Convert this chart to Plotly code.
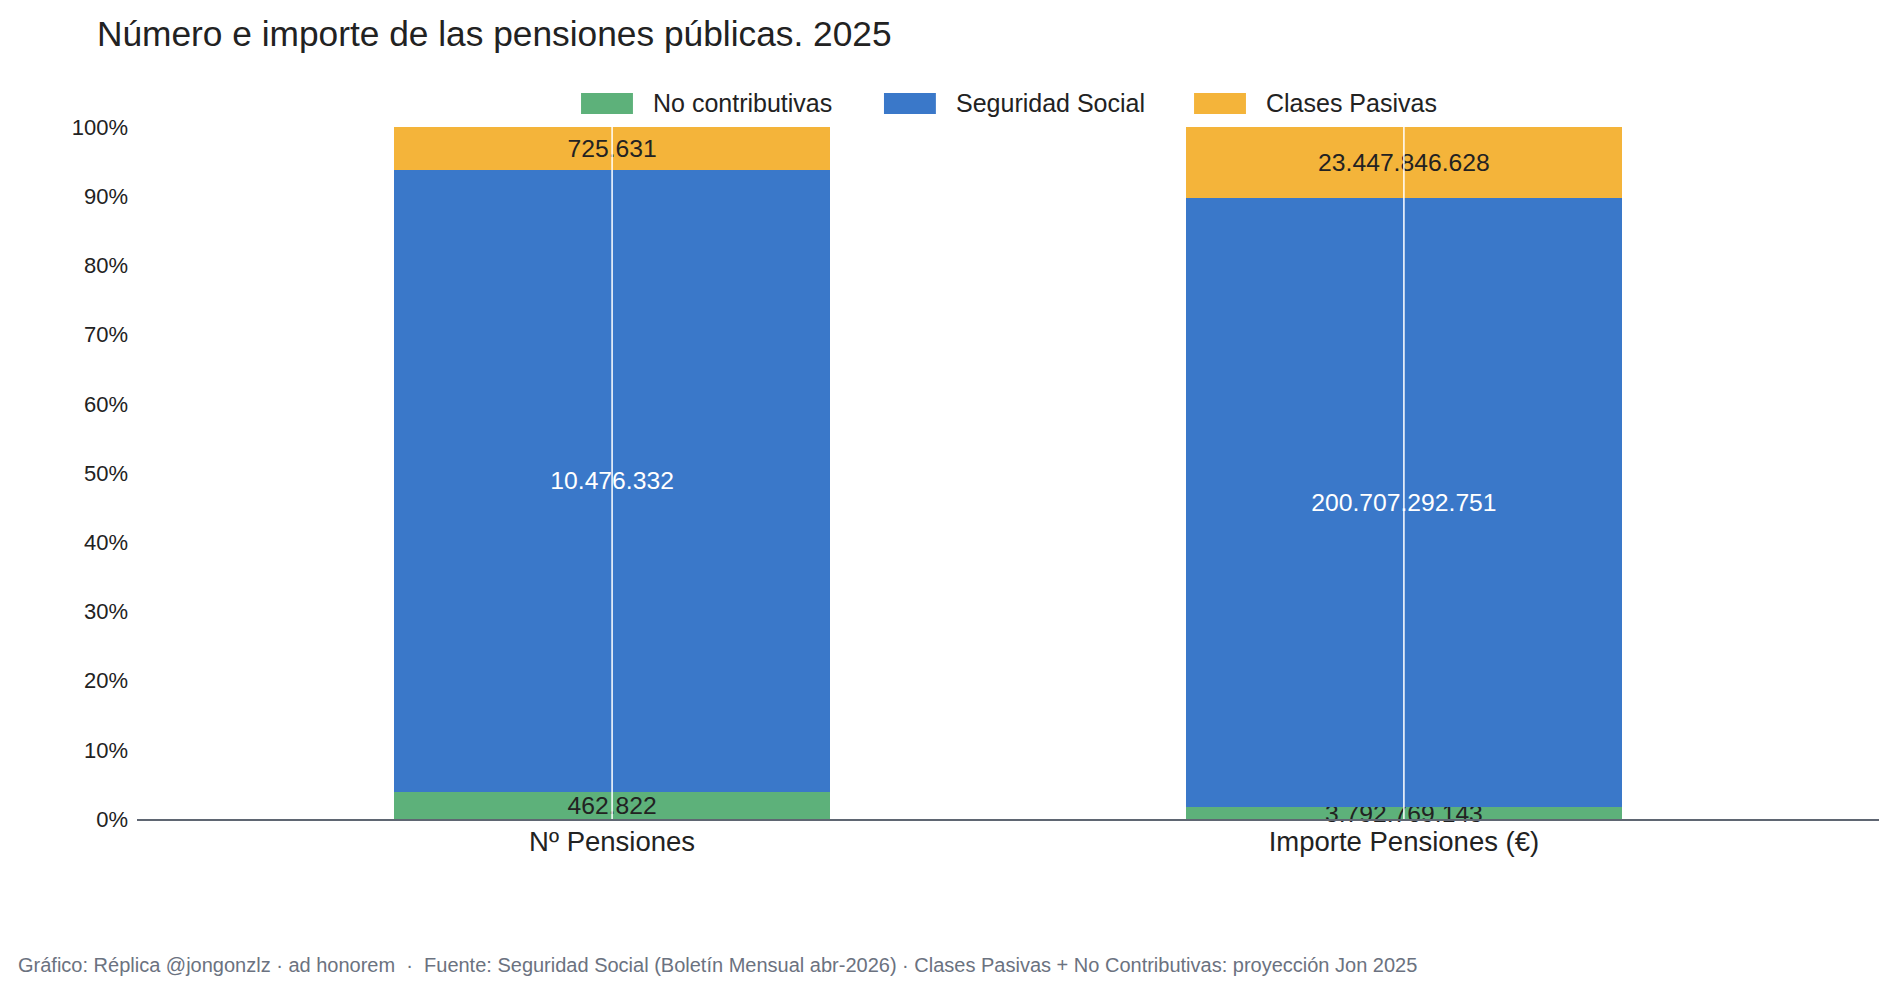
import plotly.graph_objects as go

categories = ["Nº Pensiones", "Importe Pensiones (€)"]
no_contributivas = [462822, 3792769143]
seguridad_social = [10476332, 200707292751]
clases_pasivas = [725631, 23447846628]
series_names = ["No contributivas", "Seguridad Social", "Clases Pasivas"]
colors = ["#5db17a", "#3a78c9", "#f4b43a"]
text_colors = ["#222222", "#ffffff", "#222222"]
y_ticks = [0, 10, 20, 30, 40, 50, 60, 70, 80, 90, 100]
y_tick_labels = [f"{v}%" for v in y_ticks]


def fmt(v):
    return f"{v:,}".replace(",", ".")


FONT = "Liberation Sans, Arial, sans-serif"
fig = go.Figure()
for name, vals, col, tcol in zip(series_names, [no_contributivas, seguridad_social, clases_pasivas], colors, text_colors):
    fig.add_trace(go.Bar(
        x=categories, y=vals, name=name, marker_color=col, marker_line_width=0,
        text=[fmt(v) for v in vals], textposition="inside", insidetextanchor="middle",
        textangle=0, constraintext="none", cliponaxis=False,
        textfont=dict(family=FONT, size=24.7, color=tcol), width=0.55,
        showlegend=False,
    ))

# white centre lines over each bar
for c in categories:
    fig.add_shape(type="line", xref="x", yref="y", x0=c, x1=c, y0=0, y1=100,
                  line=dict(color="white", width=1.5), layer="above")

# custom legend (wide swatches)
leg_x = [0.2549, 0.4288, 0.6068]
for name, col, lx in zip(series_names, colors, leg_x):
    fig.add_shape(type="rect", xref="paper", yref="paper", x0=lx, x1=lx + 0.0298,
                  y0=1.0188, y1=1.0491, fillcolor=col, line=dict(width=0), layer="above")
    fig.add_annotation(x=lx + 0.0400, y=1.034, xref="paper", yref="paper", text=name,
                       showarrow=False, xanchor="left", yanchor="middle",
                       font=dict(family=FONT, size=25, color="#222222"))

fig.add_annotation(
    x=-0.0695, y=-0.211, xref="paper", yref="paper", xanchor="left", yanchor="middle",
    text="Gráfico: Réplica @jongonzlz · ad honorem  ·  Fuente: Seguridad Social (Boletín Mensual abr-2026) · Clases Pasivas + No Contributivas: proyección Jon 2025",
    showarrow=False, font=dict(family=FONT, size=20, color="#6b7280"))

fig.update_layout(
    barmode="stack", barnorm="percent",
    width=1897, height=995,
    margin=dict(l=137, r=18, t=127, b=176),
    paper_bgcolor="white", plot_bgcolor="white",
    font=dict(family=FONT, color="#222222"),
    title=dict(text="Número e importe de las pensiones públicas. 2025", x=0.0511, xanchor="left",
               xref="container", y=0.966, yanchor="middle", yref="container",
               font=dict(family=FONT, size=35.3, color="#222222")),
    xaxis=dict(range=[-0.6, 1.6], showgrid=False, showline=True, linecolor="#5f6672", linewidth=1.5,
               ticks="", ticklabelstandoff=-3,
               tickfont=dict(family=FONT, size=27.5, color="#222222"), zeroline=False),
    yaxis=dict(range=[0, 100], tickmode="array", tickvals=y_ticks, ticktext=y_tick_labels,
               showgrid=False, zeroline=False,
               showline=False, ticks="", ticklabelstandoff=8,
               tickfont=dict(family=FONT, size=22, color="#222222")),
)

fig.write_html("out.html")
